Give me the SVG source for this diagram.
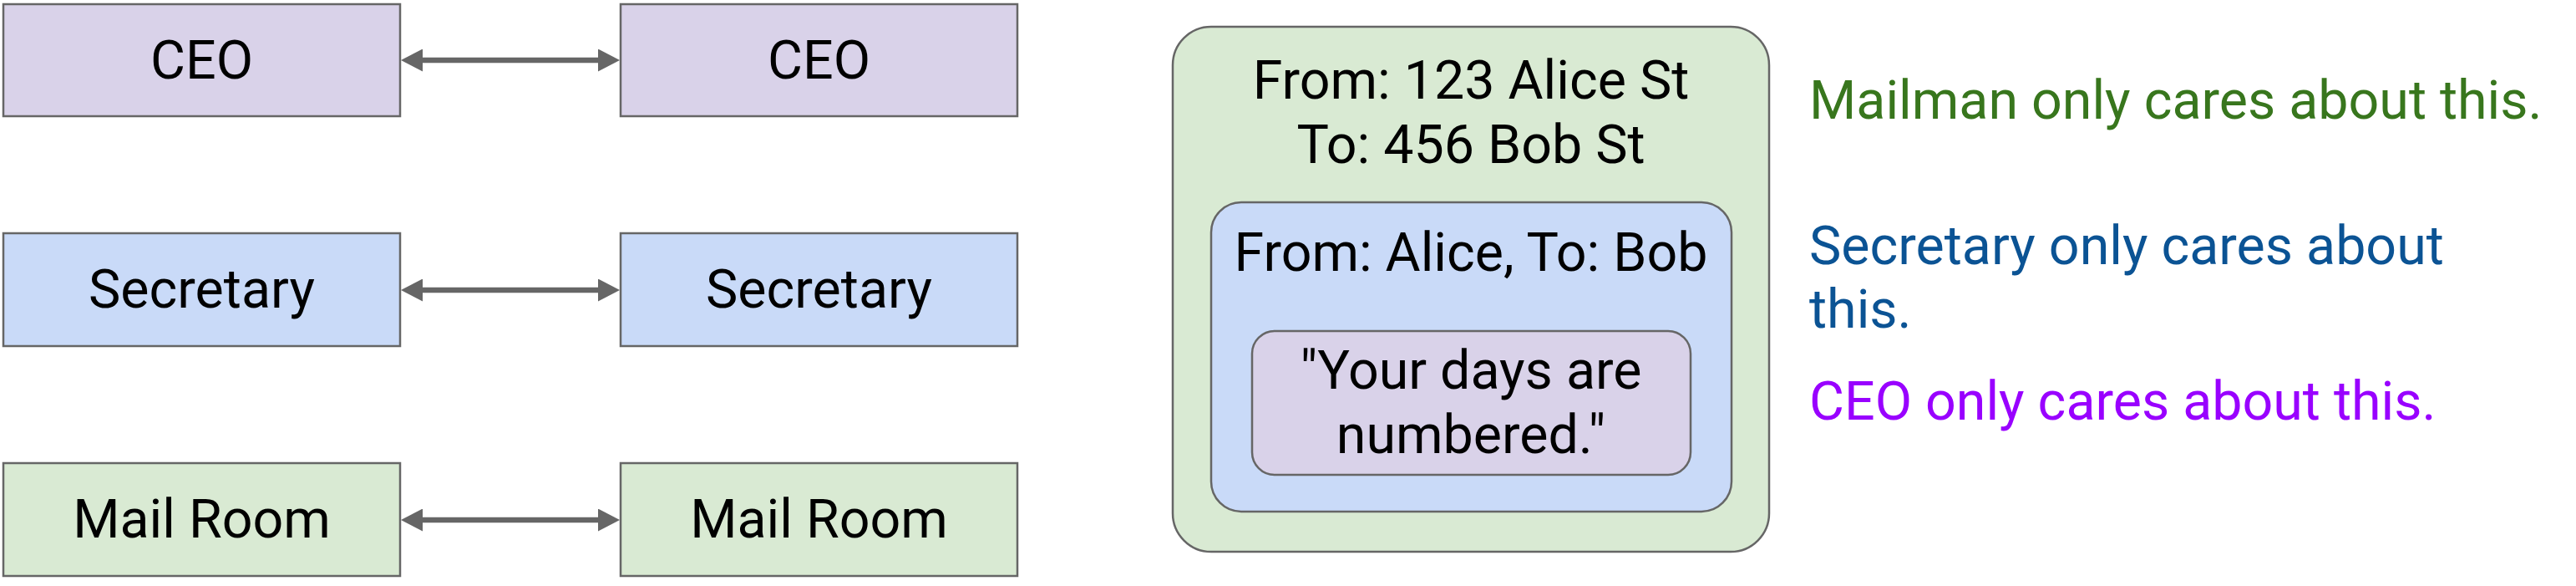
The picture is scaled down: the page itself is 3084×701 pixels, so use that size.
<svg xmlns="http://www.w3.org/2000/svg" width="3084" height="701" viewBox="0 0 3084 701">
<style>
  text { font-family: Roboto, "Liberation Sans", sans-serif; font-size: 64.5px; fill: #000000; }
  .c { text-anchor: middle; }
  .box { stroke: #666666; stroke-width: 2.5; }
  .ceo { fill: #d9d2e9; }
  .sec { fill: #c9daf8; }
  .mail { fill: #d9ead3; }
  .conn { stroke: #666666; stroke-width: 6.5; fill: none; marker-start: url(#ah); marker-end: url(#ah); }
  .tg { fill: #38761d; }
  .tb { fill: #0b5394; }
  .tp { fill: #9900ff; }
</style>
<defs>
  <marker id="ah" markerUnits="userSpaceOnUse" markerWidth="26" markerHeight="27" refX="16" refY="13.5" orient="auto-start-reverse" viewBox="0 0 26 27">
    <path d="M0,0 L26,13.5 L0,27 z" fill="#666666"/>
  </marker>
</defs>
<rect width="3084" height="701" fill="#ffffff"/>

<g id="ceo-left"><rect class="box ceo" x="4" y="5" width="475" height="134"/><text class="c" x="241.5" y="94">CEO</text></g>
<g id="ceo-right"><rect class="box ceo" x="743" y="5" width="475" height="134"/><text class="c" x="980.5" y="94">CEO</text></g>
<g id="sec-left"><rect class="box sec" x="4" y="279" width="475" height="135"/><text class="c" x="241.5" y="368">Secretary</text></g>
<g id="sec-right"><rect class="box sec" x="743" y="279" width="475" height="135"/><text class="c" x="980.5" y="368">Secretary</text></g>
<g id="mail-left"><rect class="box mail" x="4" y="554" width="475" height="135"/><text class="c" x="241.5" y="643">Mail Room</text></g>
<g id="mail-right"><rect class="box mail" x="743" y="554" width="475" height="135"/><text class="c" x="980.5" y="643">Mail Room</text></g>

<g id="connectors">
  <path class="conn" d="M490,72 L732,72"/>
  <path class="conn" d="M490,347 L732,347"/>
  <path class="conn" d="M490,622 L732,622"/>
</g>

<g id="envelope">
  <rect class="box mail" x="1404" y="32" width="714" height="628" rx="46" ry="46"/>
  <text class="c" x="1761" y="118">From: 123 Alice St</text>
  <text class="c" x="1761" y="195">To: 456 Bob St</text>
</g>
<g id="letter">
  <rect class="box sec" x="1450" y="242" width="623" height="370" rx="36" ry="36"/>
  <text class="c" x="1761" y="324">From: Alice, To: Bob</text>
</g>
<g id="message">
  <rect class="box ceo" x="1499" y="396" width="525" height="172" rx="27" ry="27"/>
  <text class="c" x="1761" y="465">"Your days are</text>
  <text class="c" x="1761" y="542">numbered."</text>
</g>

<g id="notes">
  <text class="tg" x="2166" y="142">Mailman only cares about this.</text>
  <text class="tb" x="2166" y="316">Secretary only cares about</text>
  <text class="tb" x="2166" y="392">this.</text>
  <text class="tp" x="2166" y="502">CEO only cares about this.</text>
</g>
</svg>
